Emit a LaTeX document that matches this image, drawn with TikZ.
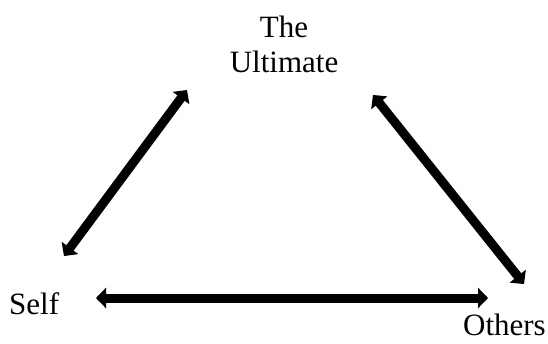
\documentclass[tikz,border=0pt]{standalone}
\usepackage{fontspec}
\setmainfont{Liberation Serif}
\usetikzlibrary{arrows.meta}
\tikzset{
  lbl/.style={font=\fontsize{31}{35}\selectfont, inner sep=0pt, align=center},
  dbl/.style={line width=9pt, {Triangle[length=10pt,width=20pt]}-{Triangle[length=10pt,width=20pt]}},
  shd/.style={dbl, draw=black!35, opacity=0.5}
}
\begin{document}
\begin{tikzpicture}[x=1pt,y=-1pt]
\useasboundingbox (0,0) rectangle (548,343);
\node[lbl, anchor=base] (ult) at (284,72) {The\\Ultimate};
\node[lbl, anchor=base west] (self) at (9,314) {Self};
\node[lbl, anchor=base east] (oth) at (546,335) {Others};
\coordinate (a1) at (187,90);
\coordinate (a2) at (64,256);
\coordinate (b1) at (373,95);
\coordinate (b2) at (524,284);
\coordinate (c1) at (96,298);
\coordinate (c2) at (488,298);
\begin{scope}[shift={(1.5,2.5)}]
\draw[shd] (a1) -- (a2);
\draw[shd] (b1) -- (b2);
\draw[shd] (c1) -- (c2);
\end{scope}
\draw[dbl] (a1) -- (a2);
\draw[dbl] (b1) -- (b2);
\draw[dbl] (c1) -- (c2);
\end{tikzpicture}
\end{document}
